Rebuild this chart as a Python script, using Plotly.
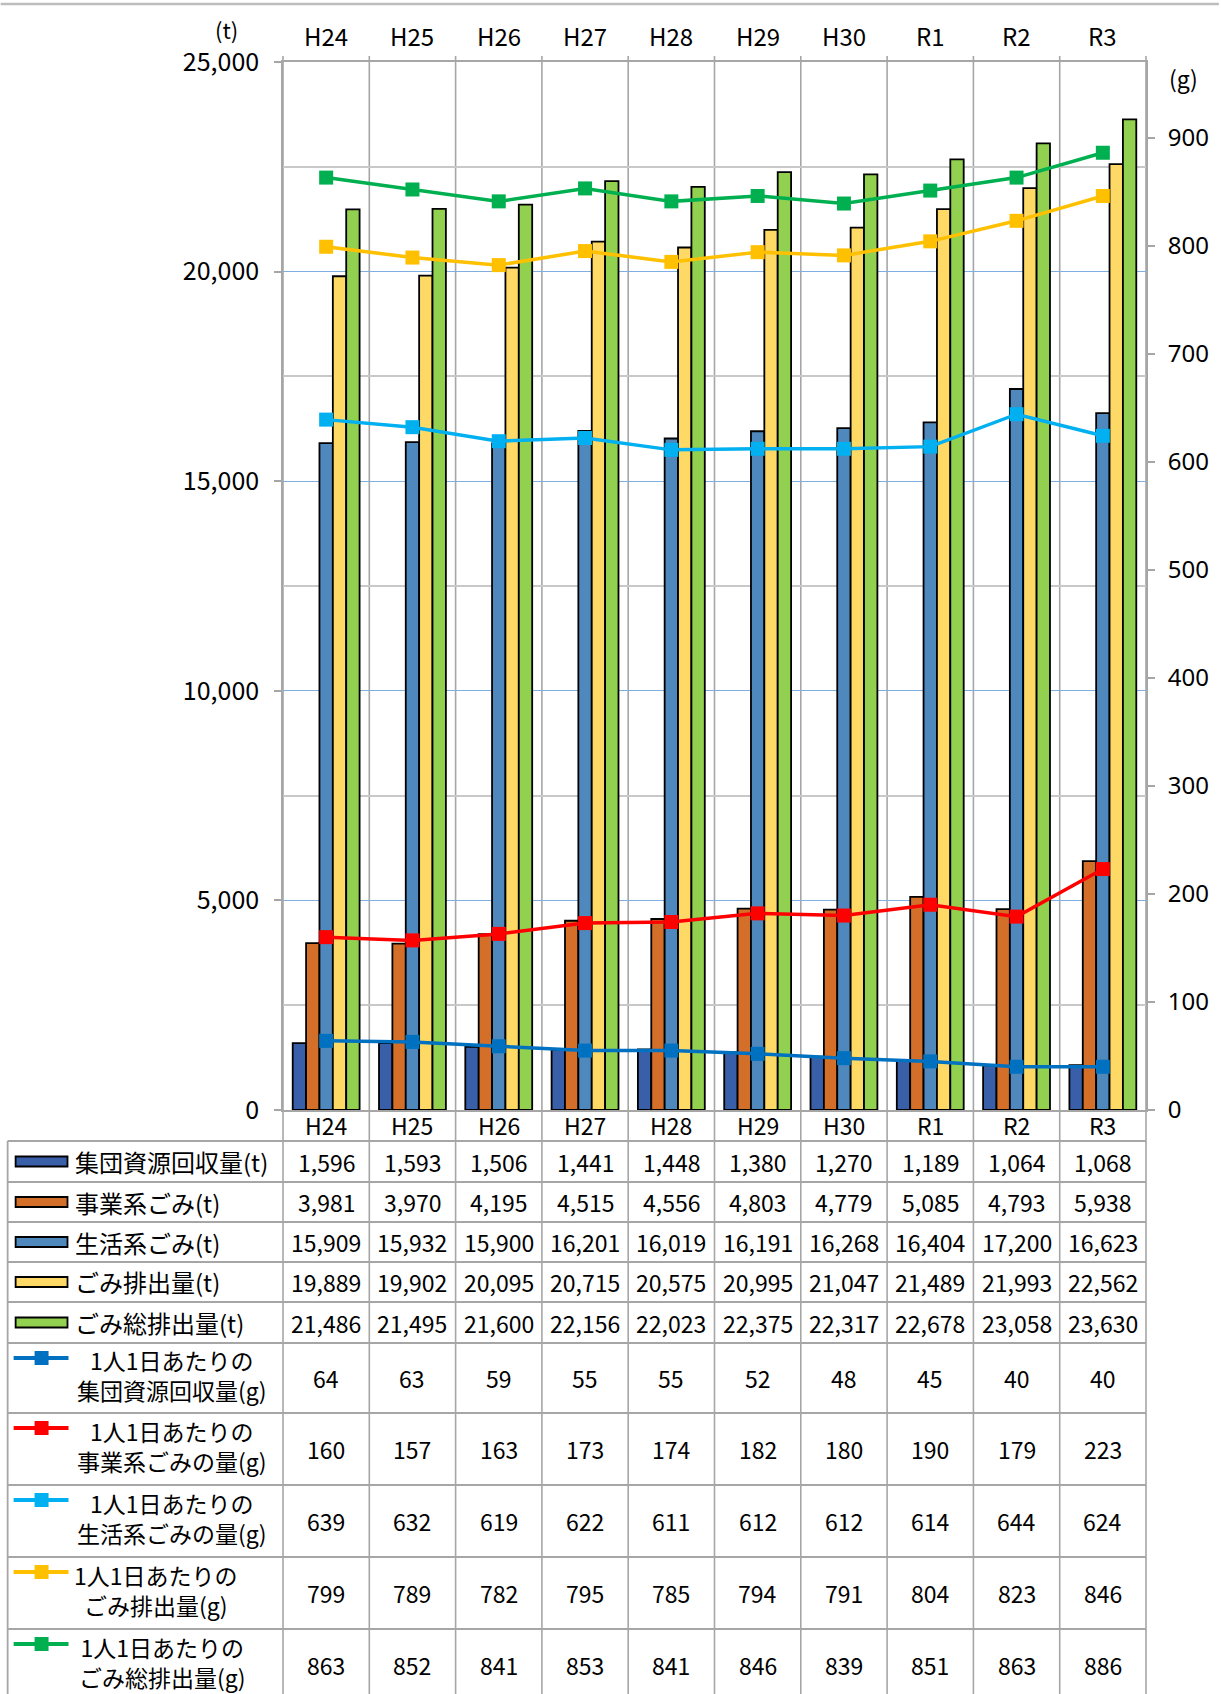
import plotly.graph_objects as go

# ---------------- data ----------------
categories = ["H24", "H25", "H26", "H27", "H28", "H29", "H30", "R1", "R2", "R3"]

group_t = [1596, 1593, 1506, 1441, 1448, 1380, 1270, 1189, 1064, 1068]
business_t = [3981, 3970, 4195, 4515, 4556, 4803, 4779, 5085, 4793, 5938]
household_t = [15909, 15932, 15900, 16201, 16019, 16191, 16268, 16404, 17200, 16623]
waste_t = [19889, 19902, 20095, 20715, 20575, 20995, 21047, 21489, 21993, 22562]
total_t = [21486, 21495, 21600, 22156, 22023, 22375, 22317, 22678, 23058, 23630]

group_g = [64, 63, 59, 55, 55, 52, 48, 45, 40, 40]
business_g = [160, 157, 163, 173, 174, 182, 180, 190, 179, 223]
household_g = [639, 632, 619, 622, 611, 612, 612, 614, 644, 624]
waste_g = [799, 789, 782, 795, 785, 794, 791, 804, 823, 846]
total_g = [863, 852, 841, 853, 841, 846, 839, 851, 863, 886]

bar_names = ["集団資源回収量(t)", "事業系ごみ(t)", "生活系ごみ(t)", "ごみ排出量(t)", "ごみ総排出量(t)"]
line_names = ["1人1日あたりの<br>集団資源回収量(g)", "1人1日あたりの<br>事業系ごみの量(g)",
              "1人1日あたりの<br>生活系ごみの量(g)", "1人1日あたりの<br>ごみ排出量(g)",
              "1人1日あたりの<br>ごみ総排出量(g)"]

bar_series = [group_t, business_t, household_t, waste_t, total_t]
line_series = [group_g, business_g, household_g, waste_g, total_g]

bar_colors = ["#3A5FA9", "#D46F2A", "#4F88BD", "#FFD966", "#92D050"]
line_colors = ["#0070C0", "#FF0000", "#00B0F0", "#FFC000", "#00B050"]

# ---------------- geometry (pixels) ----------------
W, H = 1221, 1694
PL, PR, PT, PB = 283, 1148, 62, 1110
FONT = "Noto Sans CJK JP"
GRID = "#A6A6A6"


def X(px):
    return (px - PL) / (PR - PL)


def Y(py):
    return (PB - py) / (PB - PT)


def txt(x, y, text, xref="paper", size=24, xanchor="center", family=FONT, align="center"):
    return dict(x=x, xref=xref, y=Y(y), yref="paper", text=text, showarrow=False,
                xanchor=xanchor, yanchor="middle", align=align,
                font=dict(family=family, size=size, color="black"))


row_edges = [1141, 1182, 1222, 1262, 1302, 1343, 1413, 1485, 1557, 1629, 1701]

fig = go.Figure()

for name, vals, col in zip(bar_names, bar_series, bar_colors):
    fig.add_trace(go.Bar(x=categories, y=vals, name=name,
                         marker=dict(color=col, line=dict(color="black", width=1.8)),
                         yaxis="y"))

for name, vals, col in zip(line_names, line_series, line_colors):
    fig.add_trace(go.Scatter(x=categories, y=vals, name=name.replace("<br>", ""),
                             mode="lines+markers", yaxis="y2",
                             line=dict(color=col, width=3.5),
                             marker=dict(symbol="square", size=14, color=col)))

shapes = []
annotations = []

# top page border line
shapes.append(dict(type="line", xref="paper", yref="paper", x0=X(0), x1=X(W), y0=Y(4), y1=Y(4),
                   line=dict(color="#BDBDBD", width=2.5)))

# vertical category boundaries (through plot and table)
for i in range(len(categories) + 1):
    xp = i / len(categories)
    shapes.append(dict(type="line", xref="paper", yref="paper", x0=xp, x1=xp, y0=Y(56), y1=Y(1700),
                       layer="below", line=dict(color=GRID, width=1.6)))

# table left border
shapes.append(dict(type="line", xref="paper", yref="paper", x0=X(7), x1=X(7),
                   y0=Y(row_edges[0]), y1=Y(1700), line=dict(color=GRID, width=1.8)))

# table horizontal lines
for e in row_edges[:-1]:
    shapes.append(dict(type="line", xref="paper", yref="paper", x0=X(7), x1=1.0, y0=Y(e), y1=Y(e),
                       line=dict(color=GRID, width=1.8)))

# category labels top and bottom
for c in categories:
    annotations.append(txt(c, 36, c, xref="x", size=24))
    annotations.append(txt(c, 1125, c, xref="x", size=23))

# axis unit labels
annotations.append(txt(X(226), 29, "(t)", size=22))
annotations.append(txt(X(1186), 78, "(g)", size=23))

# table rows: bar series
for r, (name, vals, col) in enumerate(zip(bar_names, bar_series, bar_colors)):
    top, bot = row_edges[r], row_edges[r + 1]
    cy = (top + bot) / 2
    shapes.append(dict(type="rect", xref="paper", yref="paper", x0=X(15), x1=X(67),
                       y0=Y(cy + 5), y1=Y(cy - 5), fillcolor=col,
                       line=dict(color="black", width=1.8)))
    annotations.append(txt(X(73), cy, name, xanchor="left", size=24))
    for c, v in zip(categories, vals):
        annotations.append(txt(c, cy, f"{v:,}", xref="x", size=23))

# table rows: line series
label_centers = [172, 172, 172, 156, 162]
for k, (name, vals, col) in enumerate(zip(line_names, line_series, line_colors)):
    r = k + 5
    top, bot = row_edges[r], row_edges[r + 1]
    cy = (top + bot) / 2
    sy = top + 15
    shapes.append(dict(type="line", xref="paper", yref="paper", x0=X(13), x1=X(68),
                       y0=Y(sy), y1=Y(sy), line=dict(color=col, width=4)))
    shapes.append(dict(type="rect", xref="paper", yref="paper", x0=X(34), x1=X(48),
                       y0=Y(sy + 7), y1=Y(sy - 7), fillcolor=col, line=dict(width=0)))
    annotations.append(txt(X(label_centers[k]), cy - 3, name, size=23))
    for c, v in zip(categories, vals):
        annotations.append(txt(c, cy, f"{v:,}", xref="x", size=23))

fig.update_layout(
    width=W, height=H, autosize=False,
    margin=dict(l=PL, r=W - PR, t=PT, b=H - PB, pad=0),
    paper_bgcolor="white", plot_bgcolor="rgba(0,0,0,0)",
    showlegend=False,
    barmode="group", bargap=0.225, bargroupgap=0,
    font=dict(family=FONT, color="black"),
    xaxis=dict(type="category", range=[-0.5, len(categories) - 0.5], showticklabels=False,
               showgrid=False, zeroline=False, showline=True, mirror=True,
               linecolor=GRID, linewidth=1.6, ticks=""),
    yaxis=dict(range=[0, 25000], tick0=0, dtick=5000, tickformat=",",
               ticks="outside", ticklen=7, tickcolor=GRID, tickwidth=1.5,
               ticklabelstandoff=10,
               tickfont=dict(family=FONT, size=25, color="black"),
               showgrid=True, gridcolor="#7EAFE0", gridwidth=1.3,
               minor=dict(dtick=2500, showgrid=True, gridcolor="#C8C8C8", gridwidth=1.6, ticks=""),
               zeroline=False, showline=True, mirror=True, linecolor=GRID, linewidth=1.6),
    yaxis2=dict(overlaying="y", side="right", range=[0, 970], tick0=0, dtick=100,
                ticks="outside", ticklen=8, tickcolor=GRID, tickwidth=1.5,
                ticklabelstandoff=8,
                tickfont=dict(family="Noto Sans", size=24, color="black"),
                showgrid=False, zeroline=False, showline=False),
    shapes=shapes,
    annotations=annotations,
)

fig.write_html("out.html", config={"displayModeBar": False},
               post_script="document.body.style.margin='0';document.body.style.overflow='hidden';")
